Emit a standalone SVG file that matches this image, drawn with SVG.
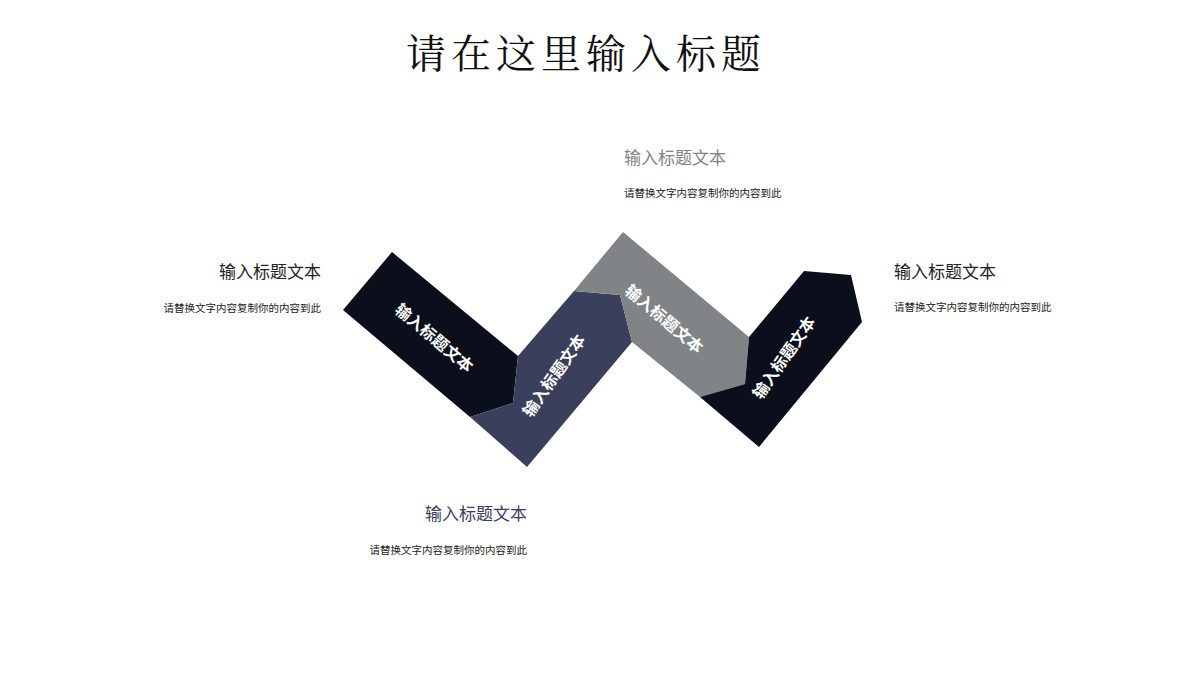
<svg xmlns="http://www.w3.org/2000/svg" width="1200" height="675" viewBox="0 0 1200 675">
<style>
.t{font-family:"Liberation Sans","Noto Sans CJK SC",sans-serif}
.lbl{font-family:"Noto Sans CJK SC",sans-serif;font-size:16px;font-weight:bold;fill:#fff;text-anchor:middle;dominant-baseline:central}
.h{font-family:"Noto Sans CJK SC",sans-serif;font-size:17px}
.d{font-family:"Noto Sans CJK SC",sans-serif;font-size:10.5px;fill:#222}
</style>
<rect width="1200" height="675" fill="#fff"/>
<text x="586" y="68" font-family="'Noto Serif CJK SC','Noto Sans CJK SC',serif" font-size="40" letter-spacing="5" text-anchor="middle" fill="#111">请在这里输入标题</text>
<g id="connectors"/>
<g id="n1"><polygon points="343,310 392,252 518,356 513,403 470,417" fill="#0b0f1c"/>
<text class="lbl" transform="translate(435,337) rotate(40)">输入标题文本</text></g>
<g id="n2"><polygon points="470,417 513,403 518,356 574,291 620,295 632,342 527,467" fill="#3a405c"/>
<text class="lbl" transform="translate(553,375) rotate(-55)">输入标题文本</text></g>
<g id="n3"><polygon points="574,291 623,232 749,337 745,384 700,397 632,342 620,295" fill="#818487"/>
<text class="lbl" transform="translate(665,318) rotate(40)">输入标题文本</text></g>
<g id="n4"><polygon points="700,397 745,384 749,337 804,271 851,275 862,322 759,447" fill="#0b0f1c"/>
<text class="lbl" transform="translate(783,357) rotate(-55)">输入标题文本</text></g>
<g id="c1"><text class="h" x="321" y="278" text-anchor="end" fill="#222">输入标题文本</text>
<text class="d" x="321" y="312" text-anchor="end">请替换文字内容复制你的内容到此</text></g>
<g id="c2"><text class="h" x="527" y="520" text-anchor="end" fill="#3a405c">输入标题文本</text>
<text class="d" x="527" y="554" text-anchor="end">请替换文字内容复制你的内容到此</text></g>
<g id="c3"><text class="h" x="624" y="164" fill="#818487">输入标题文本</text>
<text class="d" x="624" y="197">请替换文字内容复制你的内容到此</text></g>
<g id="c4"><text class="h" x="894" y="278" fill="#222">输入标题文本</text>
<text class="d" x="894" y="311">请替换文字内容复制你的内容到此</text></g>
</svg>
